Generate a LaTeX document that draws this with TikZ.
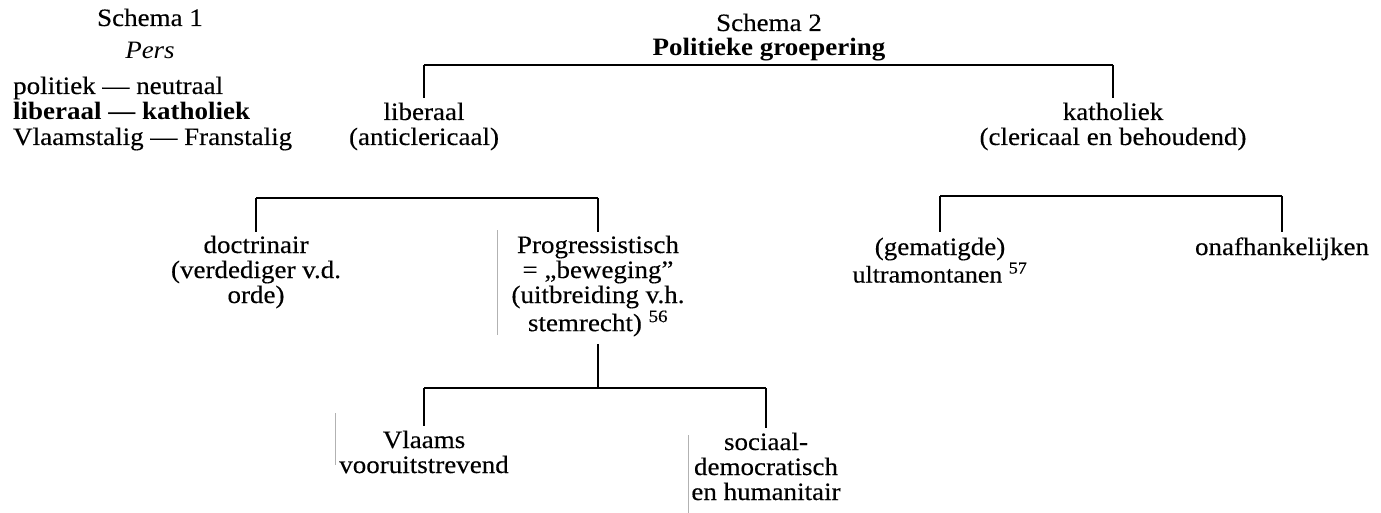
\documentclass[tikz,border=0pt]{standalone}
\usepackage{fontspec}
\setmainfont{Liberation Serif}[FakeStretch=1.08, UprightFeatures={FakeBold=0.3}]
\newcommand{\ml}[1]{\begin{tabular}[t]{@{}c@{}}#1\end{tabular}}
\tikzset{
  txt/.style={inner sep=0pt, anchor=base, font=\fontsize{25}{25}\selectfont},
  conn/.style={line width=2pt},
  tickln/.style={line width=2.4pt},
  scanln/.style={gray!60, line width=0.6pt}
}
\begin{document}
\begin{tikzpicture}[x=1pt,y=-1pt]
\useasboundingbox[fill=white] (0,0) rectangle (1381,513);
% Schema 1
\node[txt] (s1) at (150,26) {Schema 1};
\node[txt] (pers) at (150,59) {\textit{Pers}};
\node[txt, anchor=base west] (p1) at (13,94) {politiek — neutraal};
\node[txt, anchor=base west, font=\fontsize{25}{25}\selectfont\bfseries] (p2) at (13,120) {liberaal — katholiek};
\node[txt, anchor=base west] (p3) at (13,145) {Vlaamstalig — Franstalig};
% Schema 2
\node[txt] (s2) at (769,31) {Schema 2};
\node[txt, font=\fontsize{25}{25}\selectfont\bfseries] (pg) at (769,56) {Politieke groepering};
\coordinate (b1) at (0,65);
\coordinate (b2) at (0,198);
\coordinate (b4) at (0,196);
\coordinate (b3) at (0,388);
\node[txt] (lib) at (424,120) {\ml{liberaal\\(anticlericaal)}};
\node[txt] (kat) at (1113,120) {\ml{katholiek\\(clericaal en behoudend)}};
\node[txt] (doc) at (256,253) {\ml{doctrinair\\(verdediger v.d.\\orde)}};
\node[txt] (prog) at (598,253) {\ml{Progressistisch\\= „beweging”\\(uitbreiding v.h.\\stemrecht) \textsuperscript{56}}};
\node[txt] (gem) at (940,255) {\ml{(gematigde)\\{\fontsize{24}{24}\selectfont ultramontanen \textsuperscript{57}}}};
\node[txt] (onaf) at (1282,255) {onafhankelijken};
\node[txt] (vl) at (424,448) {\ml{Vlaams\\vooruitstrevend}};
\node[txt] (soc) at (766,450) {\ml{sociaal-\\democratisch\\en humanitair}};
% connectors
\draw[conn] (lib.north |- b1) -- (kat.north |- b1);
\draw[tickln, shorten >=4pt] (lib.north |- b1) -- (lib.north);
\draw[tickln, shorten >=4pt] (kat.north |- b1) -- (kat.north);
\draw[conn] (doc.north |- b2) -- (prog.north |- b2);
\draw[tickln, shorten >=3pt] (doc.north |- b2) -- (doc.north);
\draw[tickln, shorten >=3pt] (prog.north |- b2) -- (prog.north);
\draw[conn] (gem.north |- b4) -- (onaf.north |- b4);
\draw[tickln, shorten >=5pt] (gem.north |- b4) -- (gem.north);
\draw[tickln, shorten >=5pt] (onaf.north |- b4) -- (onaf.north);
\draw[tickln, shorten <=5pt] (prog.south) -- (prog.south |- b3);
\draw[conn] (vl.north |- b3) -- (soc.north |- b3);
\draw[tickln, shorten >=4pt] (vl.north |- b3) -- (vl.north);
\draw[tickln, shorten >=4pt] (soc.north |- b3) -- (soc.north);
% faint scan lines
\draw[scanln] (497,230) -- (497,335);
\draw[scanln] (335,413) -- (335,465);
\draw[scanln] (688,435) -- (688,513);
\end{tikzpicture}
\end{document}
